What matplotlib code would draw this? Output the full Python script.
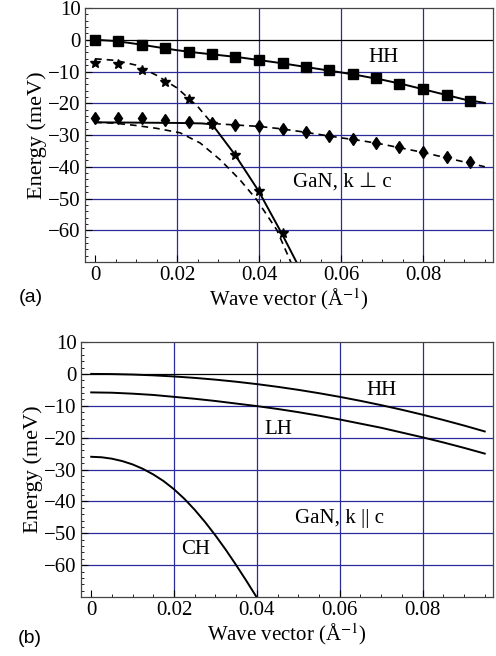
import matplotlib.pyplot as plt
from matplotlib.ticker import MultipleLocator

plt.rcParams["font.family"] = ["Liberation Serif", "DejaVu Sans"]
plt.rcParams["mathtext.fontset"] = "stix"

# ---- panel (a): k perpendicular to c ----
k_mark = [0, 0.0057, 0.0114, 0.0171, 0.0228, 0.0285, 0.0342, 0.04, 0.0457,
          0.0514, 0.057, 0.0628, 0.0685, 0.0742, 0.08, 0.0857, 0.0914]
hh_squares = [0, -0.5, -1.6, -2.7, -3.8, -4.5, -5.4, -6.4, -7.4,
              -8.6, -9.6, -10.8, -12.2, -13.8, -15.6, -17.4, -19.3]
diamonds = [-24.6, -24.8, -24.8, -25.3, -25.8, -26.2, -26.9, -27.3, -28.1,
            -29.1, -30.2, -31.3, -32.5, -33.9, -35.4, -37.0, -38.6]
k_star = [0, 0.0057, 0.0114, 0.0171, 0.0228, 0.0285, 0.0342, 0.04, 0.0457]
stars = [-7.2, -7.5, -9.5, -13.3, -18.8, -26.4, -36.2, -47.5, -61.0]

k_a = [0, 0.005, 0.01, 0.015, 0.02, 0.025, 0.03, 0.035, 0.04, 0.045,
       0.05, 0.055, 0.06, 0.065, 0.07, 0.075, 0.08, 0.085, 0.09, 0.095]
hh_a = [0, -0.4, -1.3, -2.3, -3.3, -4.1, -4.8, -5.5, -6.4, -7.3,
        -8.3, -9.3, -10.3, -11.4, -12.6, -14.0, -15.6, -17.2, -18.8, -19.9]

k_dash1 = [0, 0.005, 0.01, 0.015, 0.02, 0.025, 0.028, 0.03, 0.035, 0.04,
           0.045, 0.05, 0.055, 0.06, 0.065, 0.07, 0.075, 0.08, 0.085, 0.09, 0.095]
dash1 = [-6.0, -6.5, -8.0, -11.2, -15.2, -21.0, -25.6, -26.5, -26.9, -27.3,
         -28.0, -28.9, -29.9, -30.9, -31.8, -32.9, -34.2, -35.5, -37.0, -38.5, -40.0]

k_dash2 = [0, 0.005, 0.01, 0.015, 0.0207, 0.0256, 0.0305, 0.0353, 0.0394, 0.0443, 0.0478]
dash2 = [-26.0, -26.3, -27.0, -27.9, -29.3, -32.5, -37.8, -44.1, -50.4, -59.9, -70.3]

k_solid = [0, 0.01, 0.02, 0.026, 0.0282, 0.0295, 0.0341, 0.0398, 0.0455, 0.0492]
solid = [-26.0, -26.1, -26.2, -26.35, -26.6, -28.3, -36.2, -47.5, -61.0, -70.3]

# ---- panel (b): k parallel to c ----
k_b = [0, 0.005, 0.01, 0.015, 0.02, 0.025, 0.03, 0.035, 0.04, 0.045,
       0.05, 0.055, 0.06, 0.065, 0.07, 0.075, 0.08, 0.085, 0.09, 0.095]
hh_b = [0, -0.05, -0.2, -0.45, -0.8, -1.25, -1.8, -2.45, -3.2, -4.05,
        -5.0, -6.05, -7.2, -8.45, -9.8, -11.25, -12.8, -14.45, -16.2, -18.05]
lh_b = [-5.8, -5.9, -6.2, -6.6, -7.2, -7.8, -8.5, -9.3, -10.1, -11.0,
        -12.0, -13.1, -14.3, -15.6, -16.9, -18.4, -19.9, -21.5, -23.2, -25.0]
k_ch = [0, 0.0025, 0.005, 0.0075, 0.01, 0.0125, 0.015, 0.0175, 0.02, 0.0225,
        0.025, 0.0275, 0.03, 0.0325, 0.035, 0.0375, 0.04]
ch_b = [-26.0, -26.15, -26.6, -27.35, -28.4, -29.8, -31.55, -33.65, -36.2, -39.2,
        -42.65, -46.5, -50.7, -55.2, -60.0, -65.0, -70.2]

grid_c = "#2b2b9a"

fig = plt.figure(figsize=(4.96, 6.56), dpi=100)
ax1 = fig.add_axes([0.171, 0.6006, 0.823, 0.3872])
ax2 = fig.add_axes([0.163, 0.0899, 0.831, 0.3887])


def style(ax):
    ax.set_xlim(-0.0025, 0.097)
    ax.set_ylim(-70, 10)
    ax.set_xticks([0, 0.02, 0.04, 0.06, 0.08])
    ax.set_xticklabels(["0", "0.02", "0.04", "0.06", "0.08"])
    ax.set_yticks([10, 0, -10, -20, -30, -40, -50, -60])
    ax.set_yticklabels(["10", "0", "\u221210", "\u221220", "\u221230",
                        "\u221240", "\u221250", "\u221260"])
    ax.xaxis.set_minor_locator(MultipleLocator(0.005))
    ax.yaxis.set_minor_locator(MultipleLocator(2))
    ax.tick_params(which="both", direction="in", top=False, right=False)
    ax.tick_params(which="major", length=5, labelsize=15, pad=3)
    ax.tick_params(which="minor", length=2.5)
    for x in [0.02, 0.04, 0.06, 0.08]:
        ax.axvline(x, color=grid_c, lw=0.9, zorder=0)
    for y in [-10, -20, -30, -40, -50, -60]:
        ax.axhline(y, color=grid_c, lw=0.9, zorder=0)
    ax.axhline(0, color="black", lw=0.9, zorder=0)
    for s in ax.spines.values():
        s.set_color("#444444")
        s.set_linewidth(0.9)
    ax.set_xlabel("Wave vector (\u00c5$^{-1}$)", fontsize=15, labelpad=1)
    ax.set_ylabel("Energy (meV)", fontsize=16, labelpad=1)


style(ax1)
style(ax2)

# panel (a)
ax1.plot(k_a, hh_a, color="black", lw=1.4)
ax1.plot(k_dash1, dash1, color="black", lw=1.2, ls=(0, (4, 3)))
ax1.plot(k_dash2, dash2, color="black", lw=1.2, ls=(0, (4, 3)))
ax1.plot(k_solid, solid, color="black", lw=1.4)
ax1.plot(k_mark, hh_squares, ls="none", marker="s", ms=7, color="black")
ax1.plot(k_mark, diamonds, ls="none", marker="d", ms=6, color="black")
ax1.plot(k_star, stars, ls="none", marker="*", ms=7, color="black")
ax1.text(0.0702, -5.5, "HH", fontsize=15, ha="center", va="center")
ax1.text(0.0602, -45.1, "GaN, k \u22a5 c", fontsize=15, ha="center", va="center")
fig.text(0.062, 0.547, "(a)", family="Liberation Sans", fontsize=14,
         ha="center", va="center")

# panel (b)
ax2.plot(k_b, hh_b, color="black", lw=1.4)
ax2.plot(k_b, lh_b, color="black", lw=1.4)
ax2.plot(k_ch, ch_b, color="black", lw=1.4)
ax2.text(0.070, -5.3, "HH", fontsize=15, ha="center", va="center")
ax2.text(0.0451, -17.3, "LH", fontsize=15, ha="center", va="center")
ax2.text(0.0251, -55.2, "CH", fontsize=15, ha="center", va="center")
ax2.text(0.0599, -45.4, "GaN, k || c", fontsize=15, ha="center", va="center")
fig.text(0.060, 0.027, "(b)", family="Liberation Sans", fontsize=14,
         ha="center", va="center")

fig.savefig("out.png", dpi=100)
